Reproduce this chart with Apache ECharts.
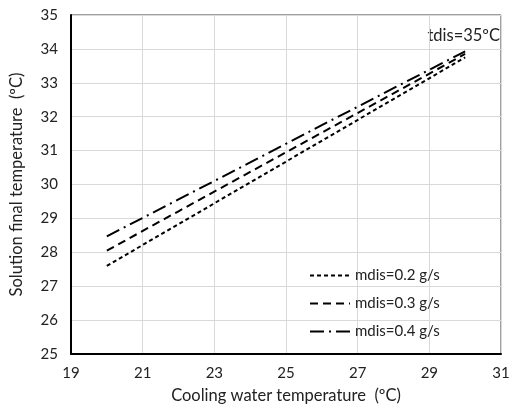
<!DOCTYPE html>
<html>
<head>
<meta charset="utf-8">
<script src="https://cdn.jsdelivr.net/npm/echarts@6/dist/echarts.min.js"></script>
<style>
  html, body { margin: 0; padding: 0; background: #fff; }
  #chart { width: 522px; height: 414px; }
</style>
</head>
<body>
<div id="chart"></div>
<script>
// Cooling water temperature (ºC)
var coolingTemp = [20, 22, 24, 26, 28, 30];
// Solution final temperature (ºC) for each distillate mass flow
var mdis02 = [27.60, 28.83, 30.06, 31.29, 32.52, 33.75];
var mdis03 = [28.05, 29.21, 30.37, 31.53, 32.69, 33.85];
var mdis04 = [28.47, 29.56, 30.65, 31.75, 32.84, 33.93];
var seriesNames = ['mdis=0.2 g/s', 'mdis=0.3 g/s', 'mdis=0.4 g/s'];
var annotation = 'tdis=35ºC';

function pairs(xs, ys) {
  return xs.map(function (x, i) { return [x, ys[i]]; });
}

var FONT = 'Lato, "Open Sans", sans-serif';
var FS = 15;        // tick labels and legend
var FS_NAME = 16.5; // axis titles and note
var chart = echarts.init(document.getElementById('chart'), null, { renderer: 'canvas' });

function lineSeries(name, ys, dash) {
  return {
    name: name,
    type: 'line',
    data: pairs(coolingTemp, ys),
    showSymbol: false,
    symbol: 'none',
    lineStyle: { color: '#000', width: 2, type: dash },
    itemStyle: { color: '#000' },
    animation: false
  };
}

chart.setOption({
  animation: false,
  textStyle: { fontFamily: FONT },
  grid: {
    left: 70, right: 21, top: 15, bottom: 60,
    show: true, borderColor: '#404040', borderWidth: 1
  },
  xAxis: {
    type: 'value', min: 19, max: 31, interval: 2,
    name: 'Cooling water temperature  (ºC)',
    nameLocation: 'middle', nameGap: 33,
    nameTextStyle: { color: '#222', fontSize: FS_NAME, fontFamily: FONT },
    axisLine: { show: true, lineStyle: { color: '#000', width: 2 } },
    axisTick: { show: false },
    axisLabel: { color: '#222', fontSize: FS, margin: 12, fontFamily: FONT },
    splitLine: { show: true, lineStyle: { color: '#d9d9d9', width: 1 } }
  },
  yAxis: {
    type: 'value', min: 25, max: 35, interval: 1,
    name: 'Solution final temperature  (ºC)',
    nameLocation: 'middle', nameGap: 46,
    nameTextStyle: { color: '#222', fontSize: FS_NAME, fontFamily: FONT },
    axisLine: { show: true, lineStyle: { color: '#000', width: 2 } },
    axisTick: { show: false },
    axisLabel: { color: '#222', fontSize: FS, margin: 13, fontFamily: FONT },
    splitLine: { show: true, lineStyle: { color: '#d9d9d9', width: 1 } }
  },
  legend: {
    orient: 'vertical',
    left: 304, top: 263,
    itemWidth: 40, itemHeight: 14, itemGap: 13,
    itemStyle: { opacity: 0 },
    textStyle: { color: '#222', fontSize: FS, fontFamily: FONT },
    data: seriesNames
  },
  graphic: [{
    type: 'text',
    right: 22, top: 27,
    style: { text: annotation, fill: '#222', fontSize: FS_NAME, fontFamily: FONT }
  }],
  series: [
    lineSeries(seriesNames[0], mdis02, [4, 3]),
    lineSeries(seriesNames[1], mdis03, [8, 5]),
    lineSeries(seriesNames[2], mdis04, [14, 5, 2, 5])
  ]
});
</script>
</body>
</html>
